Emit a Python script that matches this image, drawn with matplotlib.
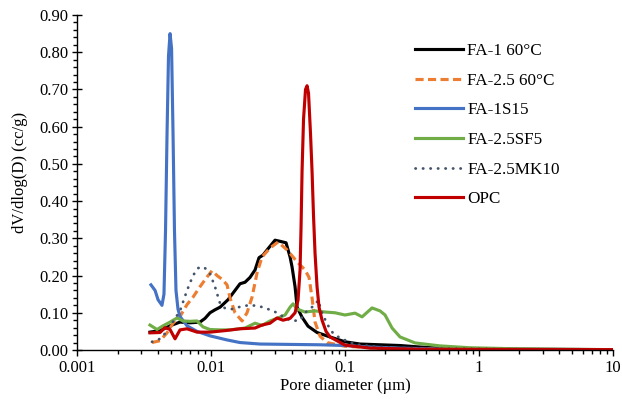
import matplotlib
matplotlib.use("Agg")
import matplotlib.pyplot as plt
from matplotlib.ticker import FixedLocator, LogLocator, FuncFormatter, MultipleLocator, NullFormatter

plt.rcParams["font.family"] = ["Liberation Serif", "DejaVu Serif"]
plt.rcParams["font.size"] = 12

# Pore size distributions: diameter (µm) and dV/dlog(D) (cc/g)
d_fa1_60 = [0.00349, 0.00415, 0.00493, 0.00585, 0.00695, 0.00825, 0.00900, 0.00980,
            0.01068, 0.01165, 0.01336, 0.01507, 0.01643, 0.01790, 0.01951, 0.02127,
            0.02278, 0.02441, 0.02659, 0.03000, 0.03270, 0.03626, 0.03885, 0.04021,
            0.04234, 0.04383, 0.04775, 0.05292, 0.06180, 0.07727, 0.1000, 0.1295,
            0.1827, 0.2577, 0.3635, 0.5128, 0.8594, 2.031, 10.0]
v_fa1_60 = [0.048, 0.052, 0.065, 0.075, 0.073, 0.075, 0.085, 0.100, 0.108, 0.115,
            0.135, 0.160, 0.178, 0.182, 0.195, 0.215, 0.248, 0.255, 0.272, 0.295,
            0.292, 0.288, 0.250, 0.223, 0.170, 0.115, 0.088, 0.064, 0.047, 0.035,
            0.022, 0.016, 0.014, 0.012, 0.008, 0.005, 0.003, 0.002, 0.001]

d_fa25_60 = [0.003614, 0.004149, 0.00468, 0.00519, 0.00585, 0.00660, 0.00732, 0.00825,
             0.00931, 0.01015, 0.01106, 0.01205, 0.01314, 0.01383, 0.01507, 0.01701,
             0.01853, 0.02020, 0.02201, 0.02399, 0.02753, 0.03159, 0.03689, 0.04383,
             0.05027, 0.05385, 0.05671, 0.05970, 0.06509, 0.07341, 0.1000, 0.1827,
             0.3635, 2.031, 10.0]
v_fa25_60 = [0.020, 0.025, 0.046, 0.072, 0.090, 0.122, 0.142, 0.170, 0.196, 0.213,
             0.200, 0.190, 0.175, 0.140, 0.100, 0.078, 0.100, 0.142, 0.207, 0.250,
             0.274, 0.290, 0.269, 0.237, 0.215, 0.195, 0.140, 0.075, 0.037, 0.020,
             0.010, 0.005, 0.003, 0.001, 0.001]

d_fa1s15 = [0.00355, 0.00381, 0.00401, 0.00429, 0.00444, 0.00456, 0.00468, 0.00480,
            0.00493, 0.00506, 0.00519, 0.00532, 0.00546, 0.00565, 0.00585, 0.00660,
            0.00784, 0.00980, 0.01314, 0.01643, 0.02318, 0.03885, 0.06509, 0.1000,
            0.1538, 0.2577, 0.6091, 10.0]
v_fa1s15 = [0.175, 0.160, 0.135, 0.120, 0.150, 0.320, 0.580, 0.790, 0.850, 0.810,
            0.580, 0.320, 0.160, 0.110, 0.090, 0.065, 0.050, 0.038, 0.027, 0.020,
            0.016, 0.015, 0.014, 0.012, 0.008, 0.005, 0.002, 0.001]

d_fa25sf5 = [0.00349, 0.00394, 0.00437, 0.00493, 0.00556, 0.00616, 0.00695, 0.00784,
             0.00869, 0.00980, 0.01165, 0.01383, 0.01790, 0.02127, 0.02399, 0.02753,
             0.03159, 0.03564, 0.03885, 0.04091, 0.04383, 0.05027, 0.05970, 0.07093,
             0.08422, 0.1000, 0.1188, 0.1341, 0.1592, 0.1827, 0.1991, 0.2246, 0.2577,
             0.3336, 0.5128, 0.8594, 2.031, 4.04, 10.0]
v_fa25sf5 = [0.067, 0.055, 0.065, 0.075, 0.086, 0.078, 0.077, 0.078, 0.062, 0.055,
             0.054, 0.054, 0.059, 0.072, 0.066, 0.078, 0.086, 0.094, 0.115, 0.124,
             0.110, 0.102, 0.105, 0.102, 0.100, 0.094, 0.099, 0.089, 0.113, 0.105,
             0.094, 0.059, 0.035, 0.019, 0.011, 0.006, 0.003, 0.002, 0.001]

d_fa25mk10 = [0.003614, 0.004149, 0.00468, 0.00510, 0.00585, 0.00660, 0.00732, 0.00797,
              0.00884, 0.00980, 0.01068, 0.01165, 0.01269, 0.01432, 0.01643, 0.01951,
              0.02318, 0.02753, 0.03105, 0.03564, 0.04021, 0.04613, 0.05027, 0.05479,
              0.05970, 0.06287, 0.06736, 0.07341, 0.08136, 0.09178, 0.1188, 0.1827,
              0.3635, 2.031, 10.0]
v_fa25mk10 = [0.022, 0.030, 0.050, 0.072, 0.105, 0.160, 0.200, 0.220, 0.223, 0.205,
              0.170, 0.125, 0.112, 0.110, 0.116, 0.121, 0.117, 0.108, 0.100, 0.086,
              0.078, 0.080, 0.100, 0.112, 0.120, 0.134, 0.100, 0.070, 0.045, 0.032,
              0.015, 0.008, 0.004, 0.002, 0.001]

d_opc = [0.00349, 0.00415, 0.00452, 0.00493, 0.00537, 0.00585, 0.00660, 0.00784,
         0.00980, 0.01269, 0.01643, 0.02127, 0.02399, 0.02753, 0.03105, 0.03443,
         0.03885, 0.04234, 0.04457, 0.04613, 0.04693, 0.04775, 0.04898, 0.05068,
         0.05203, 0.05337, 0.05525, 0.05671, 0.05817, 0.05970, 0.06180, 0.06394,
         0.06736, 0.07214, 0.07727, 0.1000, 0.1538, 0.3635, 10.0]
v_opc = [0.046, 0.047, 0.060, 0.055, 0.030, 0.054, 0.057, 0.048, 0.048, 0.052,
         0.057, 0.059, 0.067, 0.072, 0.086, 0.080, 0.085, 0.100, 0.134, 0.215,
         0.330, 0.480, 0.620, 0.700, 0.710, 0.690, 0.580, 0.480, 0.360, 0.260,
         0.170, 0.115, 0.080, 0.050, 0.035, 0.013, 0.005, 0.002, 0.001]

labels = ["FA-1 60°C", "FA-2.5 60°C", "FA-1S15", "FA-2.5SF5", "FA-2.5MK10", "OPC"]
x_ticks = [0.001, 0.01, 0.1, 1, 10]

fig = plt.figure(figsize=(6.22, 4.01), dpi=100)
ax = fig.add_axes([0.1243, 0.1272, 0.8608, 0.8354])

lw = 2.25
ax.plot(d_fa1_60, v_fa1_60, color="#000000", lw=lw, label=labels[0])
ax.plot(d_fa25_60, v_fa25_60, color="#ED7D31", lw=lw, linestyle=(0, (2.6, 1.4)),
        label=labels[1])
ax.plot(d_fa1s15, v_fa1s15, color="#4472C4", lw=lw, label=labels[2])
ax.plot(d_fa25sf5, v_fa25sf5, color="#70AD47", lw=lw, label=labels[3])
ax.plot(d_fa25mk10, v_fa25mk10, color="#44546A", lw=2.0, linestyle=(0, (0.1, 2.6)),
        dash_capstyle="round", label=labels[4])
ax.plot(d_opc, v_opc, color="#C00000", lw=lw, label=labels[5])

ax.set_xscale("log")
ax.set_xlim(0.001, 10)
ax.set_ylim(0, 0.9)

ax.xaxis.set_major_locator(FixedLocator(x_ticks))
ax.xaxis.set_major_formatter(FuncFormatter(lambda v, p: f"{v:g}"))
ax.xaxis.set_minor_locator(LogLocator(base=10, subs=range(2, 10)))
ax.xaxis.set_minor_formatter(NullFormatter())

ax.yaxis.set_major_locator(MultipleLocator(0.1))
ax.yaxis.set_minor_locator(MultipleLocator(0.02))
ax.yaxis.set_major_formatter(FuncFormatter(lambda v, p: f"{v:.2f}"))

for s in ["top", "right"]:
    ax.spines[s].set_visible(False)
for s in ["left", "bottom"]:
    ax.spines[s].set_linewidth(1.0)

ax.tick_params(axis="x", which="major", direction="out", length=4, width=1, pad=3,
               labelsize=12)
ax.tick_params(axis="x", which="minor", direction="out", length=3, width=1)
ax.tick_params(axis="y", which="major", direction="inout", length=7, width=1, pad=3,
               labelsize=12)
ax.tick_params(axis="y", which="minor", direction="out", length=3, width=1)

ax.set_xlabel("Pore diameter (µm)", fontsize=12, labelpad=2)
ax.set_ylabel("dV/dlog(D) (cc/g)", fontsize=12)
ax.yaxis.set_label_coords(-0.092, 0.53)

ax.legend(loc="upper left", bbox_to_anchor=(0.6307, 0.916), frameon=False,
          borderpad=0, borderaxespad=0, handlelength=2.82, handletextpad=0.25,
          labelspacing=0.80, fontsize=12.3)

fig.savefig("out.png", dpi=100)
